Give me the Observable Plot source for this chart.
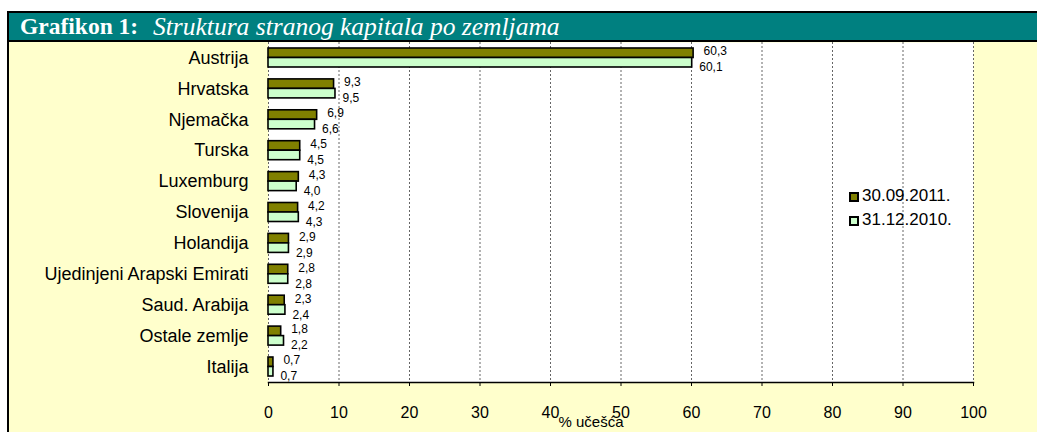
<!DOCTYPE html>
<html>
<head>
<meta charset="utf-8">
<script src="https://cdn.jsdelivr.net/npm/d3@7"></script>
<script src="https://cdn.jsdelivr.net/npm/@observablehq/plot@0.6"></script>
<style>
  body { margin: 0; background: #fff; }
  #wrap { position: relative; width: 1037px; height: 432px; overflow: hidden; font-family: "Liberation Sans", Arial, sans-serif; }
  #title { position: absolute; left: 7px; top: 11px; width: 1030px; height: 31px; box-sizing: border-box;
    border-top: 2px solid #000; border-bottom: 2px solid #000; border-left: 2px solid #000; background: #008080;
    color: #fff; font-family: "Liberation Serif", "Times New Roman", serif; line-height: 27px; white-space: nowrap; }
  #title b { position: absolute; left: 11px; top: 0; font-size: 23.5px; }
  #title i { position: absolute; left: 144px; top: 0; font-size: 25.5px; }
  #panel { position: absolute; left: 7px; top: 42px; width: 1030px; height: 390px; box-sizing: border-box;
    border-left: 2px solid #000; background: #FFFFCC; }
  #panel svg { position: absolute; left: 0; top: 0; }
  #legend { position: absolute; left: 848px; top: 186px; font-size: 17px; color: #000; }
  .li { position: relative; height: 24px; line-height: 20px; padding-left: 14px; }
  .sw { position: absolute; left: 1px; top: 6px; width: 6px; height: 6px; border: 2px solid #000; }
</style>
</head>
<body>
<div id="wrap">
  <div id="title"><b>Grafikon 1:</b><i>Struktura stranog kapitala po zemljama</i></div>
  <div id="panel"></div>
  <div id="legend"></div>
</div>
<script>
const categories = ["Austrija", "Hrvatska", "Njemačka", "Turska", "Luxemburg", "Slovenija", "Holandija", "Ujedinjeni Arapski Emirati", "Saud. Arabija", "Ostale zemlje", "Italija"];
const series = ["30.09.2011.", "31.12.2010."];
const values2011 = [60.3, 9.3, 6.9, 4.5, 4.3, 4.2, 2.9, 2.8, 2.3, 1.8, 0.7];
const values2010 = [60.1, 9.5, 6.6, 4.5, 4.0, 4.3, 2.9, 2.8, 2.4, 2.2, 0.7];
const xTicks = [0, 10, 20, 30, 40, 50, 60, 70, 80, 90, 100];
const colors = ["#808000", "#CCFFCC"];

const d2011 = categories.map((c, i) => ({country: c, value: values2011[i]}));
const d2010 = categories.map((c, i) => ({country: c, value: values2010[i]}));
const fmt = v => d3.format(".1f")(v).replace(".", ",");

const pi = 0.385, po = 0.194;
const step = 340 / (categories.length - pi + 2 * po);
const half = step * (1 - pi) / 2;

const chart = Plot.plot({
  width: 1028,
  height: 390,
  marginLeft: 259,
  marginRight: 64,
  marginTop: 0,
  marginBottom: 50,
  style: {background: "transparent", fontFamily: "'Liberation Sans', Arial, sans-serif", color: "#000"},
  x: {domain: [0, 100], ticks: xTicks},
  y: {domain: categories, paddingInner: pi, paddingOuter: po, align: 0.5, round: false},
  marks: [
    Plot.frame({fill: "white"}),
    Plot.ruleX(xTicks, {stroke: "#666", strokeDasharray: "2,2", strokeWidth: 1}),
    Plot.barX(d2011, {x: "value", y: "country", fill: colors[0], stroke: "#000", strokeWidth: 1.6, insetBottom: half}),
    Plot.barX(d2010, {x: "value", y: "country", fill: colors[1], stroke: "#000", strokeWidth: 1.6, insetTop: half}),
    Plot.text(d2011, {x: "value", y: "country", text: d => fmt(d.value), textAnchor: "start", dx: 10, dy: -6.5, fontSize: 12}),
    Plot.text(d2010, {x: "value", y: "country", text: d => fmt(d.value), textAnchor: "start", dx: 7, dy: 9.5, fontSize: 12}),
    Plot.frame({anchor: "bottom", stroke: "#000", strokeWidth: 1.5}),
    Plot.axisX({ticks: xTicks, tickSize: 4, tickPadding: 20, fontSize: 16, label: null, tickFormat: d => String(d)}),
    Plot.axisY({tickSize: 0, tickPadding: 20, fontSize: 18, label: null}),
    Plot.text(["% učešća"], {frameAnchor: "bottom", dx: -30, dy: 44, fontSize: 15})
  ]
});
document.getElementById("panel").appendChild(chart);

const legend = document.getElementById("legend");
series.forEach((s, i) => {
  const row = document.createElement("div");
  row.className = "li";
  const sw = document.createElement("span");
  sw.className = "sw";
  sw.style.background = colors[i];
  row.appendChild(sw);
  row.appendChild(document.createTextNode(s));
  legend.appendChild(row);
});
</script>
</body>
</html>
